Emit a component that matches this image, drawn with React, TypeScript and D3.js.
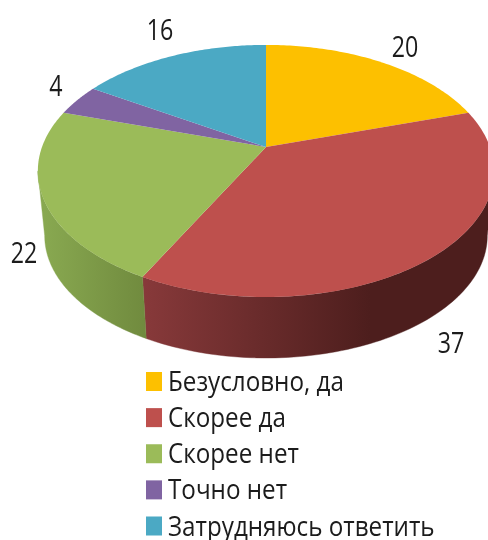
import React from "react";
import * as d3 from "d3";

const categories = ["Безусловно, да", "Скорее да", "Скорее нет", "Точно нет", "Затрудняюсь ответить"];
const values = [20, 37, 22, 4, 16];
const colors = ["#FDC000", "#BE504D", "#9BBB59", "#8064A2", "#4BA9C4"];

const W = 488, H = 540;
const cx = 266, cy = 147, A = 224, B = 121.5, K = 0.19;
const bottomScale = 0.97, bottomShift = 65.5;
const visibleFrom = Math.acos(-K);
const visibleTo = 2 * Math.PI - visibleFrom;

function project(theta: number, s = 1, dy = 0): [number, number] {
  const u = Math.sin(theta), v = Math.cos(theta);
  const w = 1 + K * v;
  return [cx + (s * A * u) / w, cy + dy - (s * B * v) / w];
}
const lineGen = d3.line<[number, number]>().x((d) => d[0]).y((d) => d[1]);
function samples(a0: number, a1: number, n = 80) {
  return d3.range(n + 1).map((i) => a0 + ((a1 - a0) * i) / n);
}
function facePath(a0: number, a1: number) {
  return lineGen([[cx, cy], ...samples(a0, a1).map((t) => project(t))])! + "Z";
}
function sidePath(a0: number, a1: number) {
  const from = Math.max(a0, visibleFrom), to = Math.min(a1, visibleTo);
  if (to <= from) return "";
  const top = samples(from, to).map((t) => project(t));
  const bot = samples(to, from).map((t) => project(t, bottomScale, bottomShift));
  return lineGen([...top, ...bot])! + "Z";
}

const arcs = d3.pie<number>().sort(null)(values);
const sideFills = ["#7a6000", "url(#redSide)", "url(#greenSide)", "#5f4a78", "#387f93"];

const dataLabelX = [405, 451, 24, 56, 160];
const dataLabelY = [46, 342, 252, 85, 29];
const legendY = d3.scalePoint<string>().domain(categories).range([381.5, 526]);
const sans = "'Open Sans', 'Noto Sans', sans-serif";

export default function App() {
  return (
    <svg width={W} height={H} viewBox={`0 0 ${W} ${H}`} style={{ position: "fixed", left: 0, top: 0, background: "#fff" }}>
      <defs>
        <linearGradient id="redSide" gradientUnits="userSpaceOnUse" x1={145} x2={370} y1={0} y2={0}>
          <stop offset="0" stopColor="#87393A" />
          <stop offset="1" stopColor="#4D1E1D" />
        </linearGradient>
        <linearGradient id="greenSide" gradientUnits="userSpaceOnUse" x1={45} x2={147} y1={0} y2={0}>
          <stop offset="0" stopColor="#88A850" />
          <stop offset="1" stopColor="#708A3E" />
        </linearGradient>
        <filter id="soft" x="-10%" y="-10%" width="120%" height="120%">
          <feGaussianBlur stdDeviation="0.45" />
        </filter>
      </defs>
      <g>
        {arcs.map((a, i) => {
          const d = sidePath(a.startAngle, a.endAngle);
          return d ? <path key={i} d={d} fill={sideFills[i]} stroke={sideFills[i]} strokeWidth={0.4} /> : null;
        })}
        {arcs.map((a, i) => (
          <path key={i} d={facePath(a.startAngle, a.endAngle)} fill={colors[i]} />
        ))}
      </g>
      <g filter="url(#soft)" fill="#1a1a1a" fontFamily={sans}>
        {values.map((v, i) => (
          <text key={i} transform={`translate(${dataLabelX[i]},${dataLabelY[i] + 10.5}) scale(0.8,1)`} fontSize={29} textAnchor="middle">
            {v}
          </text>
        ))}
        {categories.map((c) => (
          <text key={c} transform={`translate(168,${legendY(c)! + 9.5}) scale(0.865,1)`} fontSize={28}>
            {c}
          </text>
        ))}
      </g>
      {categories.map((c, i) => (
        <rect key={c} x={146} y={legendY(c)! - 9.5} width={16} height={19} fill={colors[i]} />
      ))}
    </svg>
  );
}
